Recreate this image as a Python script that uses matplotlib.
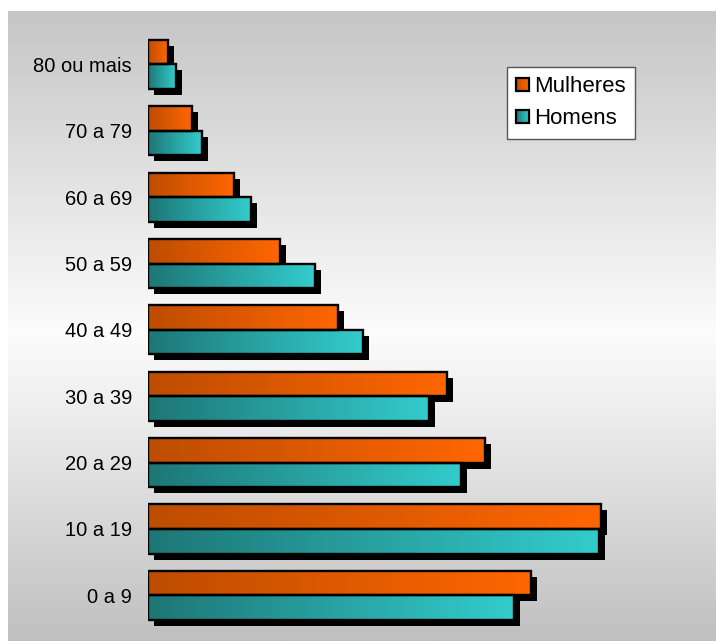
import matplotlib
matplotlib.use("Agg")
import matplotlib.pyplot as plt
import numpy as np
from matplotlib.colors import LinearSegmentedColormap
from matplotlib.legend_handler import HandlerBase
from matplotlib.patches import Rectangle
from matplotlib.transforms import offset_copy

plt.rcParams["font.family"] = ["Liberation Sans", "DejaVu Sans"]

faixas = ["0 a 9", "10 a 19", "20 a 29", "30 a 39", "40 a 49",
          "50 a 59", "60 a 69", "70 a 79", "80 ou mais"]
mulheres = [383, 453, 337, 299, 190, 132, 86, 44, 20]
homens = [366, 451, 313, 281, 215, 167, 103, 54, 28]

cmap_mulheres = LinearSegmentedColormap.from_list("mulheres", ["#bd4d00", "#ff6600"])
cmap_homens = LinearSegmentedColormap.from_list("homens", ["#1e7676", "#33cccc"])
cmap_fundo = LinearSegmentedColormap.from_list(
    "fundo", [(0.0, "#c0c0c0"), (0.486, "#fcfcfc"), (1.0, "#c6c6c6")])

W, H = 716, 641
fig = plt.figure(figsize=(W / 100, H / 100), dpi=100)
fig.patch.set_facecolor("white")

# fundo em degradê vertical
bg = fig.add_axes([8 / W, 0, (W - 8) / W, 630 / H])
bg.imshow(np.linspace(0, 1, 256).reshape(-1, 1), cmap=cmap_fundo,
          aspect="auto", origin="lower", extent=[0, 1, 0, 1])
bg.set_axis_off()

ax = fig.add_axes([148 / W, 12.5 / H, 552 / W, 597.2 / H])
ax.patch.set_visible(False)

altura = 0.37
grad = np.linspace(0, 1, 256).reshape(1, -1)
sombra = offset_copy(ax.transData, fig=fig, x=6, y=-6, units="dots")

barras = []
for i, (m, h) in enumerate(zip(mulheres, homens)):
    barras.append((m, i, cmap_mulheres))
    barras.append((h, i - altura, cmap_homens))

# sombras primeiro, depois as barras
for valor, y0, _ in barras:
    ax.add_patch(Rectangle((0, y0), valor, altura, facecolor="black",
                           edgecolor="none", transform=sombra, zorder=1))
for valor, y0, cmap in barras:
    ax.imshow(grad, cmap=cmap, aspect="auto", interpolation="bilinear",
              extent=[0, valor, y0, y0 + altura], zorder=2)
    ax.add_patch(Rectangle((0, y0), valor, altura, facecolor="none",
                           edgecolor="black", linewidth=1.7, zorder=3))

ax.set_xlim(0, 552)
ax.set_ylim(-0.5, len(faixas) - 0.5)
ax.set_yticks(range(len(faixas)))
ax.set_yticklabels(faixas, fontsize=14.5)
ax.tick_params(axis="y", length=0, pad=11.5)
ax.set_xticks([])
for s in ax.spines.values():
    s.set_visible(False)


class GradientHandler(HandlerBase):
    def __init__(self, cmap):
        super().__init__()
        self.cmap = cmap

    def create_artists(self, legend, orig_handle, xdescent, ydescent,
                       width, height, fontsize, trans):
        n = 8
        artists = []
        for k in range(n):
            artists.append(Rectangle((-xdescent + width * k / n, -ydescent),
                                     width / n, height,
                                     facecolor=self.cmap((k + 0.5) / n),
                                     edgecolor="none", transform=trans))
        artists.append(Rectangle((-xdescent, -ydescent), width, height,
                                 facecolor="none", edgecolor="black",
                                 linewidth=1.6, transform=trans))
        return artists


h_m = Rectangle((0, 0), 1, 1)
h_h = Rectangle((0, 0), 1, 1)
leg = fig.legend([h_m, h_h], ["Mulheres", "Homens"],
                 handler_map={h_m: GradientHandler(cmap_mulheres),
                              h_h: GradientHandler(cmap_homens)},
                 loc="upper left", bbox_to_anchor=(507 / W, 1 - 67 / H),
                 bbox_transform=fig.transFigure, borderaxespad=0,
                 fontsize=16, handlelength=0.55, handleheight=0.55,
                 handletextpad=0.25, labelspacing=0.5, borderpad=0.42,
                 fancybox=False, framealpha=1, facecolor="white",
                 edgecolor="#555555")
leg.get_frame().set_linewidth(1.0)

fig.savefig("out.png", dpi=100)
